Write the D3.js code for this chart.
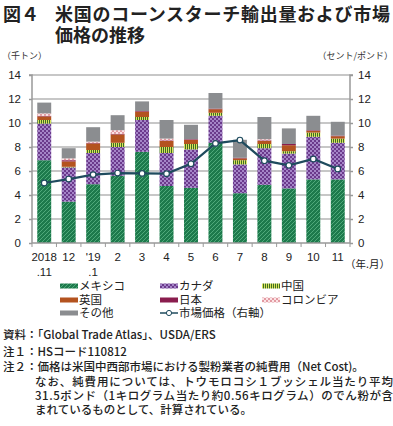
<!DOCTYPE html>
<html><head><meta charset="utf-8">
<script src="https://cdn.jsdelivr.net/npm/d3@7"></script>
<style>
body{margin:0;background:#fff;}
svg{display:block;}
text{font-family:"Noto Sans CJK JP","Noto Sans",sans-serif;}
.num{font-family:"Liberation Sans",Arial,sans-serif;}
</style></head>
<body><svg id="c" width="393" height="426"></svg>
<script>
const months = ["2018","12","'19","2","3","4","5","6","7","8","9","10","11"];
const months2 = [".11","",".1","","","","","","","","","",""];
const mexico   = [6.9,3.45,4.9,5.6,7.6,4.75,4.6,8.35,4.15,4.85,4.55,5.3,5.3];
const canada   = [3.05,2.85,2.6,2.4,2.65,2.75,3.2,2.25,2.4,3.05,2.9,3.55,3.05];
const china    = [0.3,0.05,0.25,0.35,0.25,0.5,0.45,0.25,0.35,0.35,0.2,0.35,0.35];
const uk       = [0.3,0.45,0.55,0.7,0.45,0.5,0.35,0.3,0.15,0.25,0.5,0.15,0.2];
const japan    = [0.05,0.1,0.05,0.05,0.05,0.05,0.05,0.05,0.05,0.05,0.1,0.05,0.05];
const colombia = [0.2,0.15,0.1,0.3,0.0,0.15,0.0,0.0,0.0,0.1,0.0,0.0,0.0];
const other    = [0.9,0.85,1.2,1.25,0.8,1.55,1.2,1.3,1.5,1.85,1.3,1.2,1.15];
const price    = [5.0,5.33,5.7,5.83,5.8,5.78,6.6,8.3,8.58,6.86,6.47,7.0,6.17];
const yTicks = [0,2,4,6,8,10,12,14];
const seriesNames = ["メキシコ","カナダ","中国","英国","日本","コロンビア","その他"];
const seriesKeys = ["mexico","canada","china","uk","japan","colombia","other"];
const seriesData = {mexico,canada,china,uk,japan,colombia,other};

const svg = d3.select("#c");
const defs = svg.append("defs");
function pat(id,w,h,bg,draw){
  const p = defs.append("pattern").attr("id",id).attr("width",w).attr("height",h).attr("patternUnits","userSpaceOnUse");
  p.append("rect").attr("width",w).attr("height",h).attr("fill",bg);
  draw(p);
}
pat("pMex",4,4,"#1d7a4c",p=>{p.append("path").attr("d","M0,4 L4,0 M-1,1 L1,-1 M3,5 L5,3").attr("stroke","#4fa97a").attr("stroke-width",1);});
pat("pCan",4,4,"#6b3a8c",p=>{p.append("rect").attr("x",0).attr("y",0).attr("width",2).attr("height",2).attr("fill","#a585c8");p.append("rect").attr("x",2).attr("y",2).attr("width",2).attr("height",2).attr("fill","#a585c8");});
pat("pChn",2,4,"#3f6e22",p=>{p.append("rect").attr("x",0).attr("y",0).attr("width",1).attr("height",4).attr("fill","#d9e35c");});
pat("pCol",4,4,"#e29aa2",p=>{p.append("rect").attr("x",0).attr("y",0).attr("width",2).attr("height",2).attr("fill","#fbe3e5");p.append("rect").attr("x",2).attr("y",2).attr("width",2).attr("height",2).attr("fill","#fbe3e5");});
const fills = {mexico:"url(#pMex)",canada:"url(#pCan)",china:"url(#pChn)",uk:"#b4531f",japan:"#8a1d4e",colombia:"url(#pCol)",other:"#8b8d90"};

const pL=32,pR=350,pT=75,pB=243;
const x = d3.scaleBand().domain(months.map((m,i)=>i)).range([pL,pR]).paddingInner(0.43).paddingOuter(0.215);
const y = d3.scaleLinear().domain([0,14]).range([pB,pT]);

// title
svg.append("text").attr("x",3).attr("y",20.5).attr("font-size",18).attr("font-weight",700).attr("fill","#222").text("図４");
svg.append("text").attr("x",55).attr("y",20.5).attr("font-size",18).attr("font-weight",700).attr("fill","#222").attr("textLength",335).text("米国のコーンスターチ輸出量および市場");
svg.append("text").attr("x",55).attr("y",42).attr("font-size",18).attr("font-weight",700).attr("fill","#222").text("価格の推移");
svg.append("text").attr("x",2).attr("y",59).attr("font-size",9).attr("fill","#333").text("（千トン）");
svg.append("text").attr("x",393).attr("y",59).attr("text-anchor","end").attr("font-size",9).attr("fill","#333").text("（セント/ポンド）");

// gridlines
svg.append("g").selectAll("line").data(yTicks.filter(d=>d>0)).join("line")
  .attr("x1",pL).attr("x2",pR).attr("y1",d=>y(d)).attr("y2",d=>y(d))
  .attr("stroke","#b5b5b5").attr("stroke-width",1.3);

// stacked bars
const rows = months.map((m,i)=>{const o={i}; seriesKeys.forEach(k=>o[k]=seriesData[k][i]); return o;});
const stack = d3.stack().keys(seriesKeys)(rows);
svg.append("g").selectAll("g").data(stack).join("g").attr("fill",s=>fills[s.key])
  .selectAll("rect").data(s=>s).join("rect")
  .attr("x",d=>x(d.data.i)).attr("width",x.bandwidth())
  .attr("y",d=>y(d[1])).attr("height",d=>Math.max(0,y(d[0])-y(d[1])));

// axes
const axL = svg.append("g").attr("transform",`translate(${pL},0)`).call(d3.axisLeft(y).tickValues(yTicks).tickSize(3).tickPadding(8));
const axR = svg.append("g").attr("transform",`translate(${pR},0)`).call(d3.axisRight(y).tickValues(yTicks).tickSize(3).tickPadding(5));
[axL,axR].forEach((a,ai)=>{a.selectAll("path,line").attr("stroke","#999").attr("stroke-width",1.5);a.selectAll("text").attr("class","num").attr("font-size",11.5).attr("fill","#222");a.select(".domain").attr("d",ai===0?`M-3,${pT}H0V${pB}`:`M3,${pT}H0V${pB}`);});
// x axis
svg.append("line").attr("x1",pL).attr("x2",pR).attr("y1",pB).attr("y2",pB).attr("stroke","#999").attr("stroke-width",1.5);
const step = x.step();
svg.append("g").selectAll("line").data(d3.range(months.length+1)).join("line")
  .attr("x1",d=>pL+d*step).attr("x2",d=>pL+d*step).attr("y1",pB).attr("y2",pB+4)
  .attr("stroke","#999").attr("stroke-width",1);
svg.append("g").selectAll("text").data(months).join("text").attr("class","num")
  .attr("x",(d,i)=>x(i)+x.bandwidth()/2).attr("y",261).attr("text-anchor","middle").attr("font-size",11.5).attr("fill","#222").text(d=>d);
svg.append("g").selectAll("text").data(months2).join("text").attr("class","num")
  .attr("x",(d,i)=>x(i)+x.bandwidth()/2).attr("y",276).attr("text-anchor","middle").attr("font-size",11.5).attr("fill","#222").text(d=>d);
svg.append("text").attr("x",345).attr("y",268).attr("font-size",10.5).attr("fill","#222").text("（年.月）");

// price line
const line = d3.line().x((d,i)=>x(i)+x.bandwidth()/2).y(d=>y(d));
svg.append("path").datum(price).attr("d",line).attr("fill","none").attr("stroke","#1f4b5e").attr("stroke-width",2.2);
svg.append("g").selectAll("circle").data(price).join("circle")
  .attr("cx",(d,i)=>x(i)+x.bandwidth()/2).attr("cy",d=>y(d)).attr("r",2.8)
  .attr("fill","#fff").attr("stroke","#1f4b5e").attr("stroke-width",1.2);

// legend
const colX=[60,160,262], rowY=[286,300,313];
const legItems = seriesKeys.map((k,i)=>({k,name:seriesNames[i]}));
const order = [["mexico","canada","china"],["uk","japan","colombia"],["other","price"]];
order.forEach((r,ri)=>r.forEach((k,ci)=>{
  const g = svg.append("g");
  const xx=colX[ci], yy=rowY[ri];
  if(k==="price"){
    g.append("line").attr("x1",xx).attr("x2",xx+18).attr("y1",yy).attr("y2",yy).attr("stroke","#1f4b5e").attr("stroke-width",1.5);
    g.append("circle").attr("cx",xx+9).attr("cy",yy).attr("r",2.6).attr("fill","#fff").attr("stroke","#1f4b5e").attr("stroke-width",1);
    g.append("text").attr("x",xx+19).attr("y",yy+4.2).attr("font-size",11.5).attr("fill","#222").text("市場価格（右軸）");
  } else {
    g.append("rect").attr("x",xx).attr("y",yy-2.5).attr("width",18).attr("height",5).attr("fill",fills[k]);
    g.append("text").attr("x",xx+19).attr("y",yy+4.2).attr("font-size",11.5).attr("fill","#222").text(legItems.find(o=>o.k===k).name);
  }
}));

// notes
const notes = [
  {x:3,y:339,t:"資料：「Global Trade Atlas」、USDA/ERS"},
  {x:3,y:356,t:"注１：HSコード110812"},
  {x:3,y:371,t:"注２：価格は米国中西部市場における製粉業者の純費用（Net Cost)。"},
  {x:35,y:386,t:"なお、純費用については、トウモロコシ１ブッシェル当たり平均",w:358},
  {x:35,y:400,t:"31.5ポンド（1キログラム当たり約0.56キログラム）のでん粉が含",w:358},
  {x:35,y:414,t:"まれているものとして、計算されている。"}
];
notes.forEach(n=>{const t=svg.append("text").attr("x",n.x).attr("y",n.y).attr("font-size",11.5).attr("font-weight",500).attr("fill","#222").text(n.t); if(n.w) t.attr("textLength",n.w).attr("lengthAdjust","spacing");});
</script></body></html>
